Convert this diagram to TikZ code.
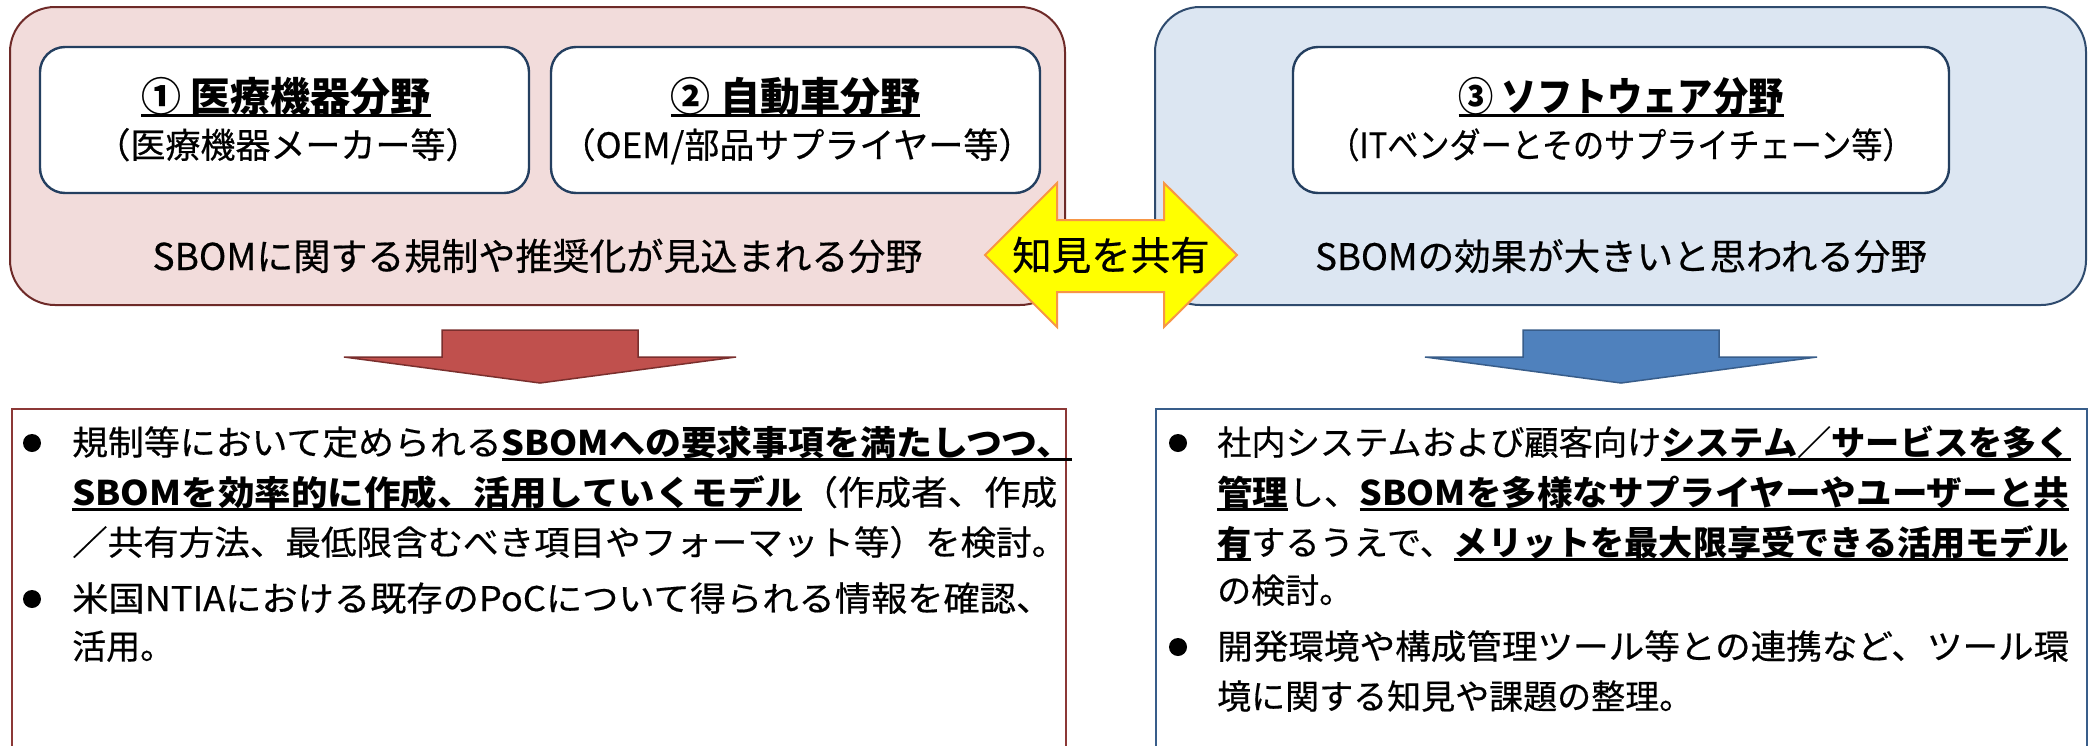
\documentclass[tikz,border=0pt]{standalone}
\usepackage{fontspec}
\setmainfont{Noto Sans CJK JP}[UprightFeatures={FakeBold=0.5}]
\usepackage{graphicx}
\definecolor{pinkfill}{HTML}{F2DCDB}
\definecolor{pinkline}{HTML}{6E2A28}
\definecolor{bluefill}{HTML}{DCE6F2}
\definecolor{blueline}{HTML}{2F4B6E}
\definecolor{navy}{HTML}{243F60}
\definecolor{yelfill}{HTML}{FFFF00}
\definecolor{yelline}{HTML}{F79646}
\definecolor{redarrow}{HTML}{C0504D}
\definecolor{redarrowline}{HTML}{7A2F2D}
\definecolor{bluearrow}{HTML}{4F81BD}
\definecolor{bluearrowline}{HTML}{385D8A}
\definecolor{leftbox}{HTML}{8C3836}
\definecolor{rightbox}{HTML}{385D8A}
\newcommand\undl[1]{\setbox0\hbox{#1}\rlap{\rule[-6pt]{\wd0}{2.8pt}}\box0}
\newcommand\fitto[2]{\resizebox{#1pt}{\height}{#2}}
\tikzset{
  bigpink/.style={draw=pinkline, fill=pinkfill, line width=2pt, rounded corners=45pt, inner sep=0pt},
  bigblue/.style={draw=blueline, fill=bluefill, line width=2pt, rounded corners=45pt, inner sep=0pt},
  innerbox/.style={draw=navy, fill=white, line width=2.4pt, rounded corners=25pt, inner sep=0pt},
  titletext/.style={font=\fontsize{40}{44}\selectfont\bfseries, inner sep=0pt, anchor=base},
  subtext/.style={font=\fontsize{35}{40}\selectfont, inner sep=0pt, anchor=base},
  areatext/.style={font=\fontsize{37}{40}\selectfont, inner sep=0pt, anchor=base},
  bodyline/.style={font=\fontsize{34}{40}\selectfont, inner sep=0pt, anchor=base west},
  dblarrow/.style={draw=yelline, fill=yelfill, line width=2pt, line join=miter},
  redarr/.style={draw=redarrowline, fill=redarrow, line width=1.5pt},
  bluearr/.style={draw=bluearrowline, fill=bluearrow, line width=1.5pt},
  leftpanel/.style={draw=leftbox, fill=white, line width=2pt, inner sep=0pt},
  rightpanel/.style={draw=rightbox, fill=white, line width=2pt, inner sep=0pt},
  bulletdot/.style={fill=black},
}
\begin{document}
\begin{tikzpicture}[x=1pt,y=-1pt]
\clip (0,0) rectangle (2098,745);
\fill[white] (0,0) rectangle (2098,745);

% upper panels
\node[bigpink, minimum width=1055pt, minimum height=298pt] (pinkbox) at (537.5,156) {};
\node[bigblue, minimum width=931pt, minimum height=298pt] (bluebox) at (1620.5,156) {};

\node[innerbox, minimum width=489pt, minimum height=146pt] (med) at (284.5,120) {};
\node[innerbox, minimum width=489pt, minimum height=146pt] (car) at (795.5,120) {};
\node[innerbox, minimum width=656pt, minimum height=146pt] (soft) at (1621,120) {};

\node[titletext] (medt) at (286,111) {\undl{① 医療機器分野}};
\node[subtext] (meds) at (288,158) {（医療機器メーカー等）};
\node[titletext] (cart) at (795.5,111) {\undl{② 自動車分野}};
\node[subtext] (cars) at (797,158) {（OEM/部品サプライヤー等）};
\node[titletext] (softt) at (1621,111) {\fitto{325}{\undl{③ ソフトウェア分野}}};
\node[subtext] (softs) at (1621,158) {\fitto{585}{（ITベンダーとそのサプライチェーン等）}};

\node[areatext] (pinkt) at (537.5,270) {SBOMに関する規制や推奨化が見込まれる分野};
\node[areatext, font=\fontsize{36.5}{40}\selectfont] (bluet) at (1621,270) {SBOMの効果が大きいと思われる分野};

% double arrow
\draw[dblarrow] (985,255) -- (1057,183) -- (1057,220) -- (1164,220) -- (1164,183)
  -- (1237,255) -- (1164,327) -- (1164,292) -- (1057,292) -- (1057,327) -- cycle;
\node[areatext, font=\fontsize{39.5}{42}\selectfont] (share) at (1111,270) {知見を共有};

% down arrows
\draw[redarr] (442,330) -- (638,330) -- (638,357) -- (736,357) -- (540,383)
  -- (344,357) -- (442,357) -- cycle;
\draw[bluearr] (1523,330) -- (1719,330) -- (1719,357) -- (1817,357) -- (1621,383)
  -- (1425,357) -- (1523,357) -- cycle;

% lower panels
\node[leftpanel, minimum width=1054pt, minimum height=360pt, anchor=north west] (lowl) at (11,408) {};
\node[rightpanel, minimum width=931pt, minimum height=360pt, anchor=north west] (lowr) at (1155,408) {};

% left text
\fill[bulletdot] (32,443) circle (9pt);
\node[bodyline] (l1) at (72,455) {\fitto{1000}{規制等において定められる\undl{\bfseries SBOMへの要求事項を満たしつつ、}}};
\node[bodyline] (l2) at (72,505) {\fitto{985}{\undl{\bfseries SBOMを効率的に作成、活用していくモデル}（作成者、作成}};
\node[bodyline] (l3) at (72,555) {\fitto{995}{／共有方法、最低限含むべき項目やフォーマット等）を検討。}};
\fill[bulletdot] (32,599) circle (9pt);
\node[bodyline] (l4) at (72,611) {\fitto{980}{米国NTIAにおける既存のPoCについて得られる情報を確認、}};
\node[bodyline] (l5) at (72,659) {活用。};

% right text
\fill[bulletdot] (1178,443) circle (9pt);
\node[bodyline] (r1) at (1217,455) {\fitto{854}{社内システムおよび顧客向け\undl{\bfseries システム／サービスを多く}}};
\node[bodyline] (r2) at (1217,505) {\fitto{852}{\undl{\bfseries 管理}し、\undl{\bfseries SBOMを多様なサプライヤーやユーザーと共}}};
\node[bodyline] (r3) at (1217,555) {\fitto{851}{\undl{\bfseries 有}するうえで、\undl{\bfseries メリットを最大限享受できる活用モデル}}};
\node[bodyline] (r4) at (1217,603) {の検討。};
\fill[bulletdot] (1178,647) circle (9pt);
\node[bodyline] (r5) at (1217,659) {\fitto{852}{開発環境や構成管理ツール等との連携など、ツール環}};
\node[bodyline] (r6) at (1217,709) {境に関する知見や課題の整理。};
\end{tikzpicture}
\end{document}
